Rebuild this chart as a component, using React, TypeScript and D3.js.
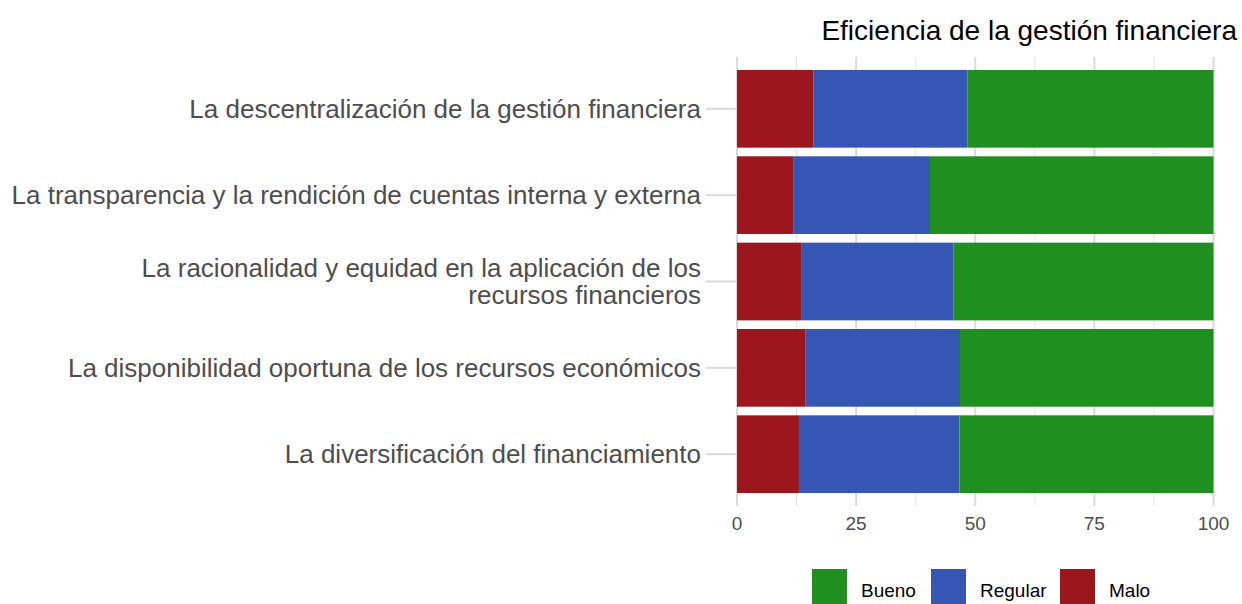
import React from 'react';
import * as d3 from 'd3';

// categories, top to bottom
const categories = [
  'La descentralización de la gestión financiera',
  'La transparencia y la rendición de cuentas interna y externa',
  'La racionalidad y equidad en la aplicación de los recursos financieros',
  'La disponibilidad oportuna de los recursos económicos',
  'La diversificación del financiamiento',
];
// label lines as drawn (third one wraps)
const labelLines = [
  ['La descentralización de la gestión financiera'],
  ['La transparencia y la rendición de cuentas interna y externa'],
  ['La racionalidad y equidad en la aplicación de los', 'recursos financieros'],
  ['La disponibilidad oportuna de los recursos económicos'],
  ['La diversificación del financiamiento'],
];

const malo = [16.0, 11.9, 13.6, 14.3, 13.0];
const regular = [32.4, 28.6, 31.8, 32.5, 33.7];
const bueno = malo.map((m, i) => 100 - m - regular[i]);

const seriesNames = ['Malo', 'Regular', 'Bueno'];
const legendOrder = ['Bueno', 'Regular', 'Malo'];
const colors: Record<string, string> = {
  Bueno: '#1f8f1f',
  Regular: '#3557b3',
  Malo: '#9c161e',
};
const xTicks = [0, 25, 50, 75, 100];
const xMinor = [12.5, 37.5, 62.5, 87.5];

const W = 1242;
const H = 604;
const FONT = '"Liberation Sans", Arial, sans-serif';

export default function App() {
  const x = d3.scaleLinear().domain([0, 100]).range([737, 1213.5]);
  const y = d3.scalePoint<string>().domain(categories).range([57, 506]).padding(0.6);
  const barH = y.step() * 0.9;

  const rows = categories.map((c, i) => ({ cat: c, Malo: malo[i], Regular: regular[i], Bueno: bueno[i] }));
  const stacked = d3.stack<any>().keys(seriesNames)(rows);

  const legendX = [812, 931, 1060];

  return (
    <svg width={W} height={H} style={{ position: 'absolute', left: 0, top: 0, background: '#fff' }} fontFamily={FONT}>
      {/* grid */}
      {xMinor.map((t) => (
        <line key={'m' + t} x1={x(t)} x2={x(t)} y1={57} y2={506} stroke="#e3e3e3" strokeWidth={1} />
      ))}
      {xTicks.map((t) => (
        <line key={'g' + t} x1={x(t)} x2={x(t)} y1={57} y2={506} stroke="#dadada" strokeWidth={2} />
      ))}
      {/* y ticks */}
      {categories.map((c) => (
        <line key={'t' + c} x1={706} x2={737} y1={y(c)} y2={y(c)} stroke="#dadada" strokeWidth={2} />
      ))}
      {/* bars */}
      {stacked.map((s) => (
        <g key={s.key} fill={colors[s.key]}>
          {s.map((d, i) => (
            <rect
              key={i}
              x={x(d[0])}
              width={x(d[1]) - x(d[0])}
              y={(y(categories[i]) as number) - barH / 2}
              height={barH}
            />
          ))}
        </g>
      ))}
      {/* y labels */}
      {categories.map((c, i) => {
        const lines = labelLines[i];
        const lh = 27;
        const y0 = (y(c) as number) - ((lines.length - 1) * lh) / 2;
        return (
          <text key={'l' + c} x={701} textAnchor="end" fontSize={26} fill="#4d4d4d">
            {lines.map((ln, j) => (
              <tspan key={j} x={701} y={y0 + j * lh} dy="0.35em">
                {ln}
              </tspan>
            ))}
          </text>
        );
      })}
      {/* x tick labels */}
      {xTicks.map((t) => (
        <text key={'x' + t} x={x(t)} y={523} dy="0.35em" textAnchor="middle" fontSize={19} fill="#4d4d4d">
          {t}
        </text>
      ))}
      {/* title */}
      <text x={1237} y={40} textAnchor="end" fontSize={28} fill="#000">
        Eficiencia de la gestión financiera
      </text>
      {/* legend */}
      {legendOrder.map((k, i) => (
        <g key={'lg' + k}>
          <rect x={legendX[i]} y={569} width={35} height={35} fill={colors[k]} />
          <text x={legendX[i] + 49} y={590} dy="0.35em" fontSize={19} fill="#000">
            {k}
          </text>
        </g>
      ))}
    </svg>
  );
}
